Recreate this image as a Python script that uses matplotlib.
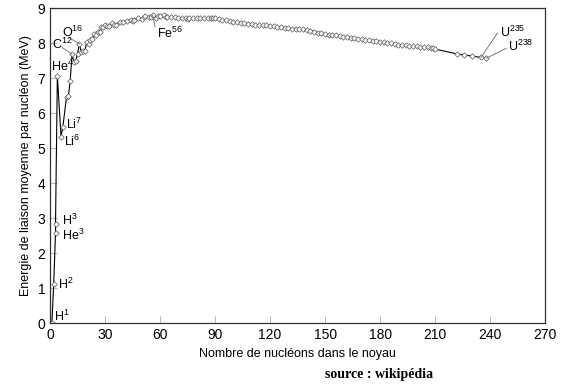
import matplotlib
matplotlib.use('Agg')
import matplotlib.pyplot as plt

plt.rcParams['font.family'] = ['Liberation Sans', 'DejaVu Sans']
plt.rcParams['mathtext.default'] = 'regular'

# nombre de nucleons A et energie de liaison par nucleon (MeV)
A = [1, 2, 3, 3, 4, 6, 7, 9, 10, 11, 12, 13, 14, 15, 16, 17, 18, 19, 20,
     21, 22, 23, 24, 25, 26, 27, 28, 29, 30, 31, 32, 34, 35, 36, 38, 40,
     42, 44, 45, 46, 48, 50, 51, 52, 54, 55, 56, 58, 59, 60, 62, 63, 64,
     66, 68, 70, 72, 74, 75, 76, 78, 80, 82, 84, 86, 88, 89, 90, 92, 94,
     96, 98, 100, 102, 104, 106, 108, 110, 112, 114, 116, 118, 120, 122,
     124, 126, 128, 130, 132, 134, 136, 138, 140, 142, 144, 146, 148, 150,
     152, 154, 156, 158, 160, 162, 164, 166, 168, 170, 172, 174, 176, 178,
     180, 182, 184, 186, 188, 190, 192, 194, 196, 198, 200, 202, 204, 206,
     208, 209, 210, 222, 226, 230, 235, 238]
E = [0.0, 1.11, 2.57, 2.83, 7.07, 5.33, 5.61, 6.46, 6.48, 6.93, 7.68, 7.47,
     7.48, 7.70, 7.98, 7.75, 7.77, 7.78, 8.03, 7.97, 8.08, 8.11, 8.26, 8.22,
     8.33, 8.33, 8.45, 8.45, 8.52, 8.48, 8.49, 8.58, 8.52, 8.52, 8.61, 8.60,
     8.62, 8.66, 8.62, 8.66, 8.72, 8.70, 8.74, 8.78, 8.74, 8.76, 8.79, 8.73,
     8.77, 8.78, 8.79, 8.75, 8.74, 8.76, 8.76, 8.72, 8.73, 8.73, 8.70, 8.71,
     8.72, 8.71, 8.71, 8.72, 8.71, 8.73, 8.71, 8.71, 8.69, 8.67, 8.65, 8.64,
     8.61, 8.61, 8.58, 8.58, 8.55, 8.55, 8.52, 8.53, 8.52, 8.52, 8.50, 8.49,
     8.47, 8.46, 8.44, 8.43, 8.41, 8.41, 8.40, 8.39, 8.38, 8.35, 8.33, 8.30,
     8.28, 8.26, 8.24, 8.23, 8.22, 8.20, 8.18, 8.17, 8.15, 8.14, 8.13, 8.11,
     8.10, 8.08, 8.06, 8.05, 8.04, 8.02, 8.01, 7.99, 7.97, 7.96, 7.95, 7.94,
     7.93, 7.91, 7.91, 7.90, 7.88, 7.88, 7.87, 7.85, 7.83, 7.69, 7.66, 7.63,
     7.59, 7.57]

fig = plt.figure(figsize=(5.62, 3.87), dpi=100)
ax = fig.add_axes([0.089, 0.165, 0.881, 0.814])

ax.plot(A, E, color='black', lw=0.8, marker='D', ms=2.8, mfc='white',
        mec='#555555', mew=0.5)

# etiquettes des noyaux
txt = dict(fontsize=9, va='center', ha='left')
ax.text(2.2, 0.2, r'H$^1$', **txt)
ax.text(4.4, 1.11, r'H$^2$', **txt)
ax.text(6.6, 2.93, r'H$^3$', **txt)
ax.text(6.6, 2.5, r'He$^3$', **txt)
ax.text(0.8, 7.33, r'He$^4$', **txt)
ax.text(8.5, 5.68, r'Li$^7$', **txt)
ax.text(7.6, 5.2, r'Li$^6$', **txt)
ax.text(1.0, 7.96, r'C$^{12}$', **txt)
ax.text(6.5, 8.32, r'O$^{16}$', **txt)
ax.text(58.5, 8.28, r'Fe$^{56}$', **txt)
ax.text(245.5, 8.32, r'U$^{235}$', **txt)
ax.text(250, 7.9, r'U$^{238}$', **txt)

lc = dict(color='#666666', lw=0.6)
ax.plot([6.5, 12], [7.88, 7.68], **lc)
ax.plot([10.5, 16], [8.15, 7.98], **lc)
ax.plot([57.3, 56], [8.47, 8.79], **lc)
ax.plot([244, 235], [8.29, 7.59], **lc)
ax.plot([248.7, 238], [7.85, 7.57], **lc)

ax.set_xlim(0, 270)
ax.set_ylim(0, 9)
ax.set_xticks(range(0, 271, 30))
ax.set_yticks(range(0, 10))
ax.tick_params(direction='in', length=5, color='#bbbbbb', labelsize=10)
for s in ax.spines.values():
    s.set_color('#333333')
    s.set_linewidth(0.9)

ax.set_xlabel('Nombre de nucléons dans le noyau', fontsize=9)
ax.set_ylabel('Energie de liaison moyenne par nucléon (MeV)', fontsize=9)

fig.text(0.675, 0.033, 'source : wikipédia', family='Liberation Serif',
         fontweight='bold', fontsize=10, ha='center', va='center')

fig.savefig('out.png', dpi=100)
